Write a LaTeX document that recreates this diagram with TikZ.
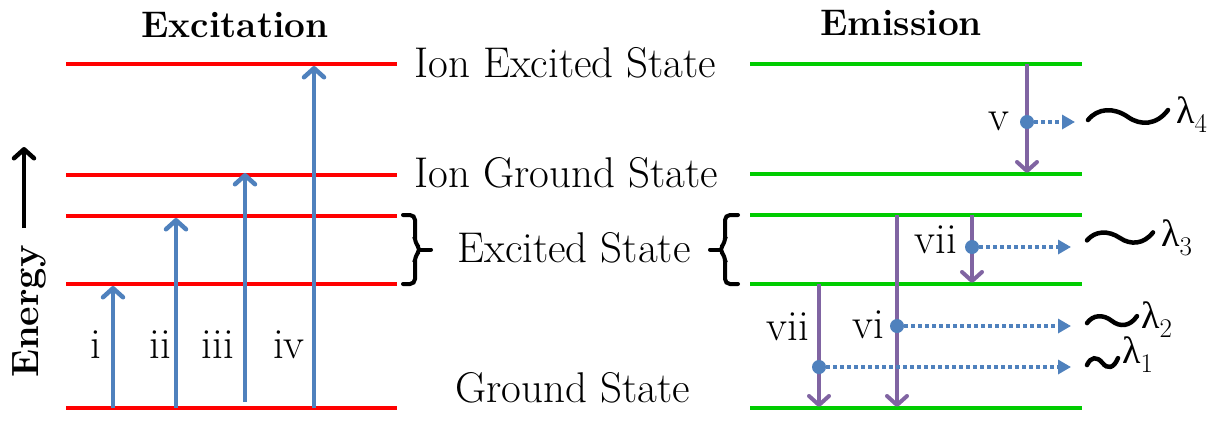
\documentclass[tikz,border=0pt]{standalone}
\usepackage{fontspec}
\newfontfamily\grk{Liberation Serif}
\usetikzlibrary{arrows.meta}
\definecolor{exred}{RGB}{255,0,0}
\definecolor{emgreen}{RGB}{0,204,0}
\definecolor{arrblue}{RGB}{79,129,189}
\definecolor{arrpurple}{RGB}{128,100,162}
\newcommand{\lab}{\fontsize{43}{43}\selectfont}
\newcommand{\ttl}{\fontsize{37}{37}\selectfont\bfseries}
\newcommand{\lam}[1]{{\grk\fontsize{38}{38}\selectfont λ}{\fontsize{27}{27}\selectfont\raisebox{-9pt}{#1}}}
\begin{document}
\begin{tikzpicture}[x=1pt,y=-1pt,
  redlevel/.style={draw=exred, line width=4pt},
  greenlevel/.style={draw=emgreen, line width=4pt},
  barb/.style={-{Straight Barb[length=9pt,width=20pt,line cap=round,line join=round]}},
  exarrow/.style={draw=arrblue, line width=4.5pt, barb},
  emarrow/.style={draw=arrpurple, line width=4pt, barb},
  photon/.style={draw=arrblue, line width=3.5pt, dash pattern=on 3.5pt off 3.5pt, -{Triangle[length=13pt,width=14pt]}},
  dot/.style={circle, fill=arrblue, minimum size=14pt, inner sep=0pt},
  txt/.style={inner sep=0pt, anchor=base, font=\lab},
  txtw/.style={inner sep=0pt, anchor=base west, font=\lab},
  brace/.style={draw=black, line width=4pt, line cap=round, rounded corners=5pt},
  wavestyle/.style={draw=black, line width=4.5pt, line cap=round},
  wave/.pic={\draw[wavestyle] (0,0.3) .. controls (0.12,-0.9) and (0.32,-1.0) .. (0.5,0) .. controls (0.66,0.9) and (0.86,0.8) .. (1,-0.7);}
]
\useasboundingbox (0,0) rectangle (1221,421);

% titles
\node[inner sep=0pt, anchor=base, font=\ttl] (excitation) at (235,37) {Excitation};
\node[inner sep=0pt, anchor=base, font=\ttl] (emission) at (901,35) {Emission};

% energy axis
\node[inner sep=0pt, rotate=90, anchor=base west, font=\fontsize{38}{38}\selectfont\bfseries] (energy) at (38,378) {Energy};
\coordinate (ea0) at (24,228);
\coordinate (ea1) at (24,147);
\draw[draw=black, line width=4.5pt, barb] (ea0) -- (ea1);

% red levels (excitation)
\draw[redlevel] (66,64) -- (397,64);
\draw[redlevel] (66,175) -- (397,175);
\draw[redlevel] (66,216) -- (397,216);
\draw[redlevel] (66,284) -- (397,284);
\draw[redlevel] (66,408) -- (397,408);

% green levels (emission)
\draw[greenlevel] (750,64) -- (1082,64);
\draw[greenlevel] (750,174) -- (1082,174);
\draw[greenlevel] (750,215) -- (1082,215);
\draw[greenlevel] (750,284) -- (1082,284);
\draw[greenlevel] (750,408) -- (1082,408);

% state labels
\node[txtw] (ies) at (414,77) {Ion Excited State};
\node[txtw] (igs) at (414,187) {Ion Ground State};
\node[txtw] (es) at (457,262) {Excited State};
\node[txtw] (gs) at (455,402) {Ground State};

% braces
\draw[brace] (403,215) -- (415,215) -- (415,243) -- (421,249.5) -- (415,256) -- (415,284) -- (403,284);
\draw[brace, rounded corners=0pt] (419,249.5) -- (431,249.5);
\draw[brace] (738,215) -- (725,215) -- (725,243) -- (719,249.5) -- (725,256) -- (725,284) -- (738,284);
\draw[brace, rounded corners=0pt] (721,249.5) -- (710,249.5);

% excitation arrows
\coordinate (i0) at (113,408);   \coordinate (i1) at (113,286);
\coordinate (ii0) at (176,408);  \coordinate (ii1) at (176,218);
\coordinate (iii0) at (245,402); \coordinate (iii1) at (245,173);
\coordinate (iv0) at (314,408);  \coordinate (iv1) at (314,66);
\draw[exarrow] (i0) -- (i1);
\draw[exarrow] (ii0) -- (ii1);
\draw[exarrow] (iii0) -- (iii1);
\draw[exarrow] (iv0) -- (iv1);
\node[txt] (li) at (96,358) {i};
\node[txt] (lii) at (160,358) {ii};
\node[txt] (liii) at (218,358) {iii};
\node[txt] (liv) at (289,358) {iv};

% emission arrows
\coordinate (v0) at (1027,64);    \coordinate (v1) at (1027,173);
\coordinate (vi0) at (897,215);   \coordinate (vi1) at (897,407);
\coordinate (vu0) at (972,215);   \coordinate (vu1) at (972,283);
\coordinate (vl0) at (819,284);   \coordinate (vl1) at (819,407);
\draw[emarrow] (v0) -- (v1);
\draw[emarrow] (vi0) -- (vi1);
\draw[emarrow] (vu0) -- (vu1);
\draw[emarrow] (vl0) -- (vl1);

\node[txt] (lv) at (999,130) {v};
\node[txt] (lvu) at (936,253) {vii};
\node[txt] (lvi) at (868,338) {vi};
\node[txt] (lvl) at (788,340) {vii};

% photon emission
\node[dot] (dv) at (1027,122) {};
\node[dot] (dvu) at (972,247) {};
\node[dot] (dvi) at (897,326) {};
\node[dot] (dvl) at (819,367) {};
\coordinate (ev) at (1075,122);
\coordinate (evu) at (1071,247);
\coordinate (evi) at (1071,326);
\coordinate (evl) at (1071,367);
\draw[photon] (dv) -- (ev);
\draw[photon] (dvu) -- (evu);
\draw[photon] (dvi) -- (evi);
\draw[photon] (dvl) -- (evl);

% waves
\pic[xscale=80, yscale=10] at (1088,117) {wave};
\pic[xscale=66, yscale=8] at (1087,238) {wave};
\pic[xscale=50, yscale=7] at (1087,321) {wave};
\pic[xscale=31, yscale=7] at (1087,363) {wave};

% wavelengths
\node[inner sep=0pt, anchor=base west] (l4) at (1176,123) {\lam{4}};
\node[inner sep=0pt, anchor=base west] (l3) at (1161,246) {\lam{3}};
\node[inner sep=0pt, anchor=base west] (l2) at (1141,328) {\lam{2}};
\node[inner sep=0pt, anchor=base west] (l1) at (1122,363) {\lam{1}};
\end{tikzpicture}
\end{document}
